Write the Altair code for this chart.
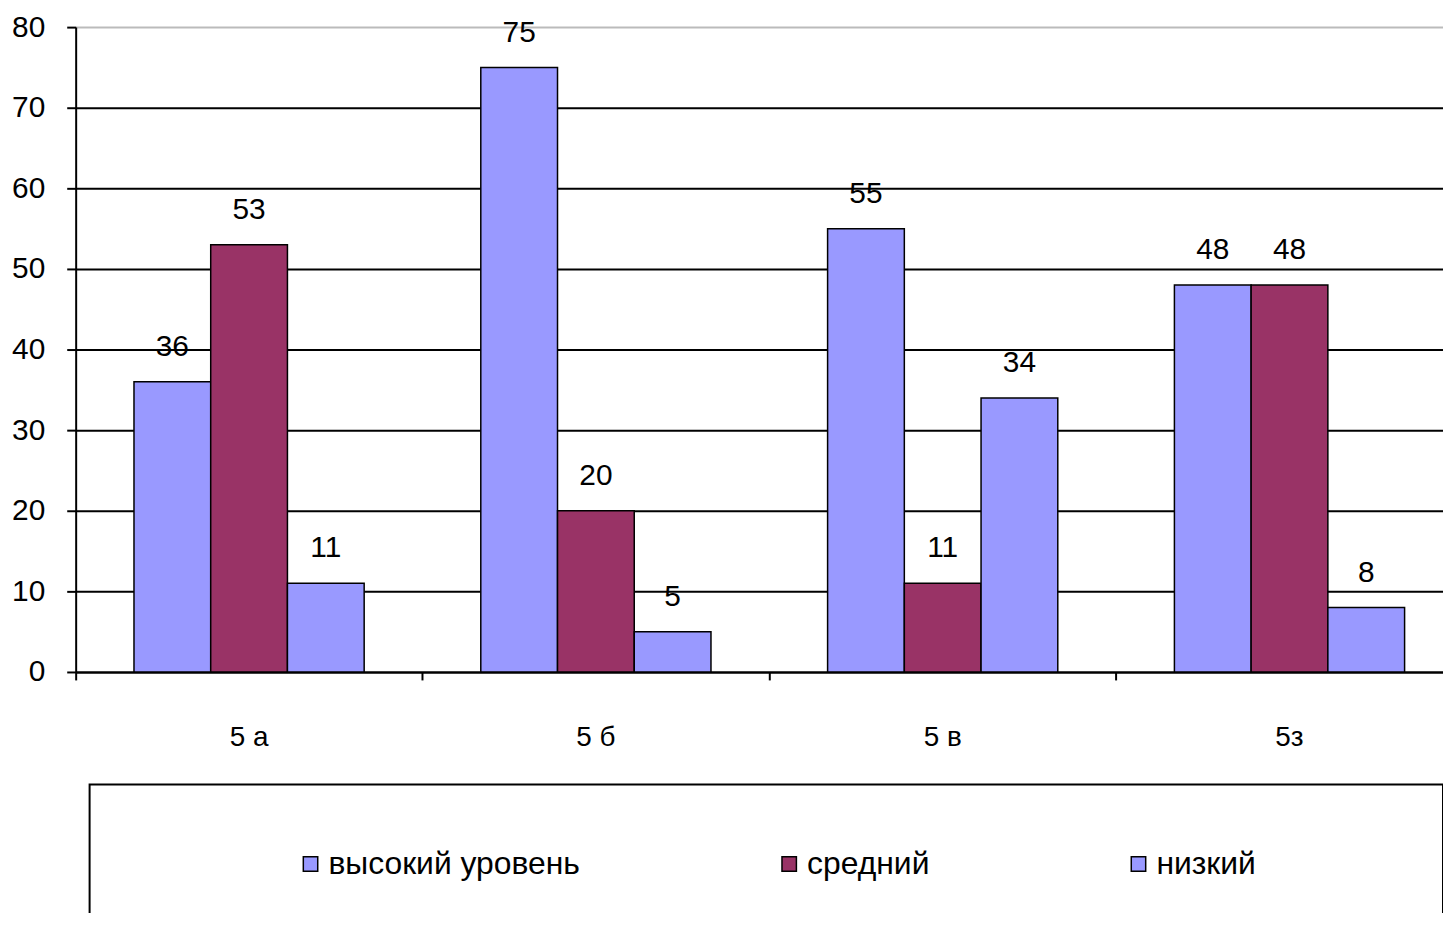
import altair as alt
import pandas as pd

categories = ["5 а", "5 б", "5 в", "5з"]
series = ["высокий уровень", "средний", "низкий"]
high = [36, 75, 55, 48]
mid = [53, 20, 11, 48]
low = [11, 5, 34, 8]
colors = ["#9999FF", "#993366", "#9999FF"]

rows = []
for i, c in enumerate(categories):
    for s, vals in zip(series, [high, mid, low]):
        rows.append({"класс": c, "уровень": s, "значение": vals[i]})
df = pd.DataFrame(rows)

FONT = "'Liberation Sans', Arial, sans-serif"
FS = 30
W, H = 1374, 648

xscale = alt.Scale(domain=categories, rangeMax=1394, paddingInner=0, paddingOuter=0)
offscale = alt.Scale(domain=series, paddingInner=0, paddingOuter=0.76)

yaxis = alt.Axis(
    values=list(range(0, 81, 10)), tickSize=9, tickWidth=2, tickColor="black",
    labelPadding=22, labelFontSize=FS, labelFont=FONT, labelColor="black",
    domainColor="black", domainWidth=2, grid=True, gridWidth=2,
    gridColor={"condition": {"test": "datum.value == 80", "value": "#bbbbbb"}, "value": "black"},
    title=None,
)

base = alt.Chart(df).encode(
    xOffset=alt.XOffset("уровень:N", scale=offscale, sort=series),
    y=alt.Y("значение:Q", scale=alt.Scale(domain=[0, 80], nice=False), axis=yaxis),
)

legend = alt.Legend(
    orient="none", legendX=220, legendY=825, direction="horizontal", title=None,
    symbolType="square", symbolSize=210, symbolStrokeColor="black", symbolStrokeWidth=1.5,
    labelFont=FONT, labelFontSize=32, labelColor="black",
    columnPadding=194, labelOffset=2, padding=0, labelLimit=600,
)

bars = base.mark_bar(stroke="black", strokeWidth=1.5).encode(
    x=alt.X("класс:N", scale=xscale, sort=categories,
            axis=alt.Axis(orient="bottom", bandPosition=0, labels=False, ticks=True,
                          tickSize=8, tickWidth=2, tickColor="black", domain=True,
                          domainColor="black", domainWidth=2, grid=False, title=None)),
    color=alt.Color("уровень:N", scale=alt.Scale(domain=series, range=colors), legend=legend),
)

labels = base.mark_text(dy=-26, fontSize=FS, font=FONT, color="black", baseline="alphabetic").encode(
    x=alt.X("класс:N", scale=xscale, sort=categories,
            axis=alt.Axis(orient="bottom", labels=True, ticks=False, tickSize=0, domain=False,
                          labelPadding=52, labelFontSize=28, labelFont=FONT,
                          labelColor="black", grid=False, title=None, labelAngle=0)),
    text=alt.Text("значение:Q"),
)

frame = alt.Chart(pd.DataFrame({"k": [0]})).mark_rect(
    stroke="black", strokeWidth=2, fillOpacity=0, fill="white"
).encode(x=alt.value(14), x2=alt.value(1374), y=alt.value(761), y2=alt.value(930))

chart = alt.layer(bars, labels, frame).resolve_axis(x="independent").properties(
    width=W, height=H, autosize="none",
    padding={"left": 68, "top": 17, "right": 0, "bottom": 240},
    background="white",
).configure_view(stroke=None)

chart.save("out.html", embed_options={"renderer": "svg", "actions": False})
